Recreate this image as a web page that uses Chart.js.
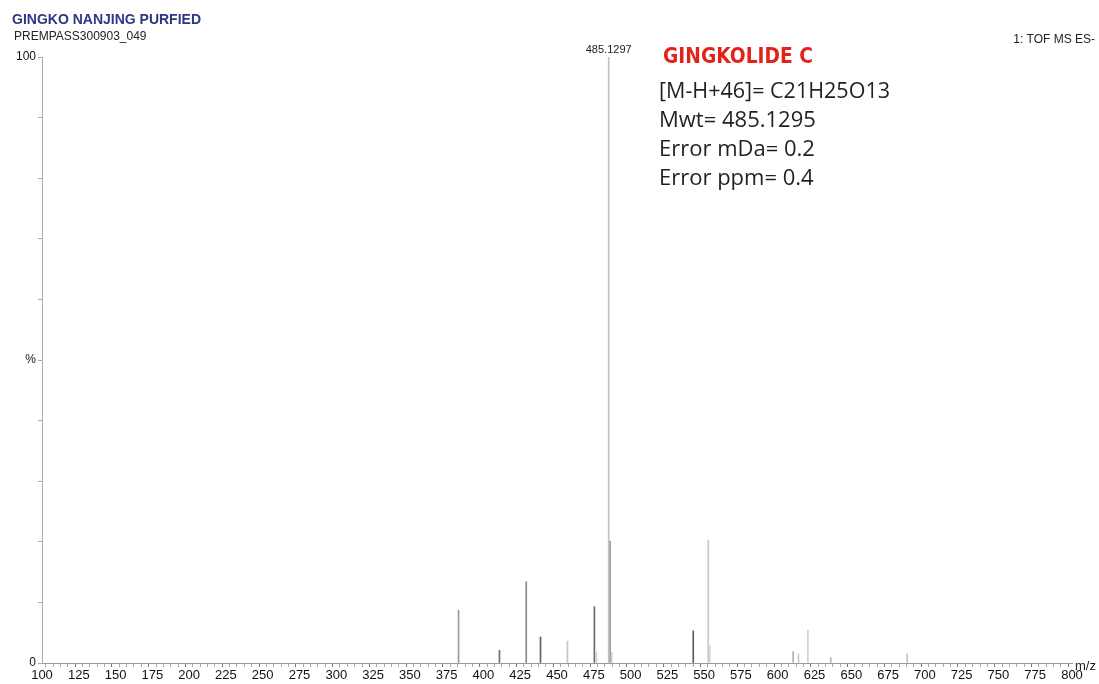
<!DOCTYPE html>
<html>
<head>
<meta charset="utf-8">
<script src="https://cdn.jsdelivr.net/npm/chart.js@4.4.0/dist/chart.umd.min.js"></script>
<style>
  html, body { margin: 0; padding: 0; background: #fff; }
  #wrap { width: 1099px; height: 684px; }
</style>
</head>
<body>
<div id="wrap"><canvas id="spectrum" width="1099" height="684"></canvas></div>
<script>
// peak list (m/z, relative intensity %)
const mzValues = [383.1, 410.9, 429.1, 438.8, 457.1, 475.4, 476.8, 485.1297, 486.13, 487.2,
                  542.6, 552.8, 553.9, 610.5, 614.1, 620.5, 636.1, 688.0];
const intensities = [8.7, 2.1, 13.4, 4.3, 3.6, 9.3, 1.8, 100, 20.1, 1.8,
                     5.3, 20.3, 2.8, 1.9, 1.5, 5.4, 0.9, 1.5];
const peakColors = ['#9a9a9a', '#707070', '#8a8a8a', '#606060', '#c4c4c4', '#6a6a6a', '#cfcfcf',
                    '#c2c2c2', '#a0a0a0', '#d2d2d2', '#5a5a5a', '#c8c8c8', '#d6d6d6',
                    '#b0b0b0', '#c8c8c8', '#d0d0d0', '#b8b8b8', '#c4c4c4'];
const xTicksMajor = [100, 125, 150, 175, 200, 225, 250, 275, 300, 325, 350, 375, 400, 425, 450,
                     475, 500, 525, 550, 575, 600, 625, 650, 675, 700, 725, 750, 775, 800];
const yTickLabels = { 0: '0', 50: '%', 100: '100' };

const infoLines = ['[M-H+46]= C21H25O13', 'Mwt= 485.1295', 'Error mDa= 0.2', 'Error ppm= 0.4'];

// labels round the plot
const textPlugin = {
  id: 'msText',
  afterDraw(chart) {
    const ctx = chart.ctx;
    const x = chart.scales.x, y = chart.scales.y;
    ctx.save();
    ctx.textBaseline = 'middle';

    ctx.fillStyle = '#2e3686';
    ctx.font = 'bold 14px "Liberation Sans", Arial, sans-serif';
    ctx.fillText('GINGKO NANJING PURFIED', 12, 20, 192);

    ctx.fillStyle = '#222';
    ctx.font = '12px "Liberation Sans", Arial, sans-serif';
    ctx.fillText('PREMPASS300903_049', 14, 37, 140);

    ctx.textAlign = 'right';
    ctx.fillText('1: TOF MS ES-', 1095, 40);

    // base peak label
    ctx.textAlign = 'center';
    ctx.font = '11px "Liberation Sans", Arial, sans-serif';
    ctx.fillText('485.1297', x.getPixelForValue(485.1297), 50);

    ctx.textAlign = 'left';
    ctx.font = '13px "Liberation Sans", Arial, sans-serif';
    ctx.fillText('m/z', 1075, y.getPixelForValue(0) + 3);

    // compound annotation
    ctx.fillStyle = '#e2231a';
    ctx.font = 'bold 21px "DejaVu Sans", sans-serif';
    ctx.fillText('GINGKOLIDE C', 663, 58, 150);

    ctx.fillStyle = '#231f20';
    ctx.font = '22px "Open Sans", "Noto Sans", sans-serif';
    infoLines.forEach((t, i) => {
      ctx.fillText(t, 659, 92 + i * 29, i === 0 ? 231 : undefined);
    });
    ctx.restore();
  }
};

const ctx = document.getElementById('spectrum').getContext('2d');
const chart = new Chart(ctx, {
  type: 'bar',
  data: {
    datasets: [{
      data: mzValues.map((m, i) => ({ x: m, y: intensities[i] })),
      backgroundColor: peakColors,
      borderWidth: 0,
      barThickness: 1
    }]
  },
  options: {
    responsive: false,
    animation: false,
    layout: { padding: { left: 12, right: 27, top: 57, bottom: 0 } },
    plugins: { legend: { display: false }, tooltip: { enabled: false } },
    scales: {
      x: {
        type: 'linear',
        min: 100,
        max: 800,
        offset: false,
        afterFit: s => { s.height = 21; },
        afterBuildTicks: s => {
          const t = [];
          for (let v = 100; v <= 800; v += 5) t.push({ value: v });
          s.ticks = t;
        },
        ticks: {
          autoSkip: false,
          maxRotation: 0,
          padding: 1,
          color: '#111',
          font: { family: '"Liberation Sans", Arial, sans-serif', size: 13 },
          callback: v => xTicksMajor.includes(v) ? String(v) : ''
        },
        grid: {
          drawOnChartArea: false,
          tickLength: 4,
          tickColor: c => (c.tick && c.tick.value % 25 === 0) ? '#777' : '#aaa'
        },
        border: { color: '#999', width: 1 }
      },
      y: {
        min: 0,
        max: 100,
        afterFit: s => { s.width = 30; },
        ticks: {
          stepSize: 10,
          padding: 2,
          color: '#111',
          font: { family: '"Liberation Sans", Arial, sans-serif', size: 12 },
          callback: v => yTickLabels[v] !== undefined ? yTickLabels[v] : ''
        },
        grid: { drawOnChartArea: false, tickLength: 4, tickColor: '#aaa' },
        border: { color: '#aaa', width: 1 }
      }
    }
  },
  plugins: [textPlugin]
});
</script>
</body>
</html>
